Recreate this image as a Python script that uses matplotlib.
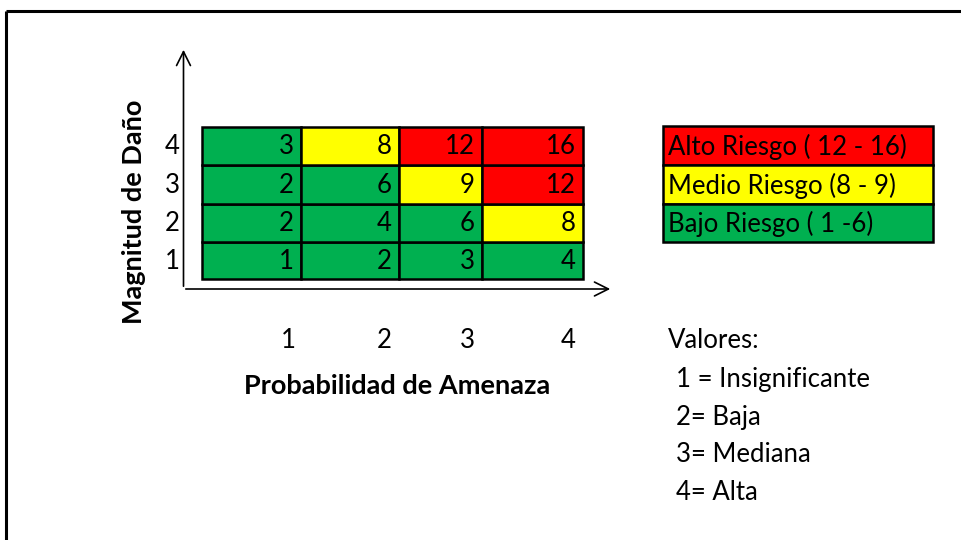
import matplotlib
matplotlib.use("Agg")
import matplotlib.pyplot as plt
from matplotlib.patches import Rectangle

# ---- data ----
probabilidad = [1, 2, 3, 4]          # x categories
magnitud = [1, 2, 3, 4]              # y categories
# risk values, one row per magnitude (1..4), columns = probabilidad 1..4
valores_mag1 = [1, 2, 3, 4]
valores_mag2 = [2, 4, 6, 8]
valores_mag3 = [2, 6, 9, 12]
valores_mag4 = [3, 8, 12, 16]
legend_labels = ["Alto Riesgo ( 12 - 16)", "Medio Riesgo (8 - 9)", "Bajo Riesgo ( 1 -6)"]
valores_text = ["1 = Insignificante", "2= Baja", "3= Mediana", "4= Alta"]

rows = [valores_mag1, valores_mag2, valores_mag3, valores_mag4]

RED, YELLOW, GREEN = "#FF0000", "#FFFF00", "#00B050"


def risk_color(v):
    if v >= 12:
        return RED
    if v >= 8:
        return YELLOW
    return GREEN


FONT = ["Lato", "DejaVu Sans"]
plt.rcParams["font.family"] = FONT
FS = 18.5
FS_LAB = 19.5

W, H = 961, 540
fig = plt.figure(figsize=(W / 100, H / 100), dpi=100)
ax = fig.add_axes([0, 0, 1, 1])
ax.set_xlim(0, W)
ax.set_ylim(H, 0)
ax.axis("off")

# layout (pixel coordinates)
col_edges = [202, 301, 399, 482, 583]
row_edges = [279, 242, 203.5, 165, 127]   # bottom of magnitude 1 ... top of magnitude 4
lw = 1.8

# frame (top and left lines)
ax.plot([6, W + 5], [11, 11], color="black", lw=2.2, solid_capstyle="butt")
ax.plot([6, 6], [11, H + 5], color="black", lw=2.2, solid_capstyle="butt")

# heat-map cells
for i, m in enumerate(magnitud):
    for j, p in enumerate(probabilidad):
        v = rows[i][j]
        x0, x1 = col_edges[j], col_edges[j + 1]
        yb, yt = row_edges[i], row_edges[i + 1]
        ax.add_patch(Rectangle((x0, yt), x1 - x0, yb - yt, facecolor=risk_color(v),
                               edgecolor="black", lw=lw))
        ax.text(x1 - 7, (yb + yt) / 2 + 1, str(v), ha="right", va="center",
                fontsize=FS, color="black")

# axes arrows
ax.annotate("", xy=(183.5, 47), xytext=(183.5, 289),
            arrowprops=dict(arrowstyle="->,head_length=1.0,head_width=0.5", lw=1.2, color="black"))
ax.annotate("", xy=(613, 289), xytext=(183, 289),
            arrowprops=dict(arrowstyle="->,head_length=1.0,head_width=0.5", lw=1.2, color="black"))

# y tick labels
for i, m in enumerate(magnitud):
    ax.text(172, (row_edges[i] + row_edges[i + 1]) / 2 + 1, str(m), ha="center", va="center",
            fontsize=FS)

# x tick labels
x_tick_pos = [288, 384, 467, 568]
for j, p in enumerate(probabilidad):
    ax.text(x_tick_pos[j], 340, str(p), ha="center", va="center", fontsize=FS)

ax.text(397, 386, "Probabilidad de Amenaza", ha="center", va="center",
        fontsize=FS_LAB, fontweight="bold")
ax.text(134, 212, "Magnitud de Daño", ha="center", va="center", rotation=90,
        fontsize=FS_LAB, fontweight="bold")

# legend boxes
leg_colors = [RED, YELLOW, GREEN]
leg_edges = [126, 165, 204, 242]
for k, (lab, c) in enumerate(zip(legend_labels, leg_colors)):
    yt, yb = leg_edges[k], leg_edges[k + 1]
    ax.add_patch(Rectangle((663, yt), 270, yb - yt, facecolor=c, edgecolor="black", lw=lw))
    ax.text(668, (yt + yb) / 2 + 1, lab, ha="left", va="center", fontsize=FS)

# values description
ax.text(668, 340, "Valores:", ha="left", va="center", fontsize=FS)
for k, t in enumerate(valores_text):
    ax.text(676, 379 + k * 38, t, ha="left", va="center", fontsize=FS)

fig.savefig("out.png", dpi=100)
